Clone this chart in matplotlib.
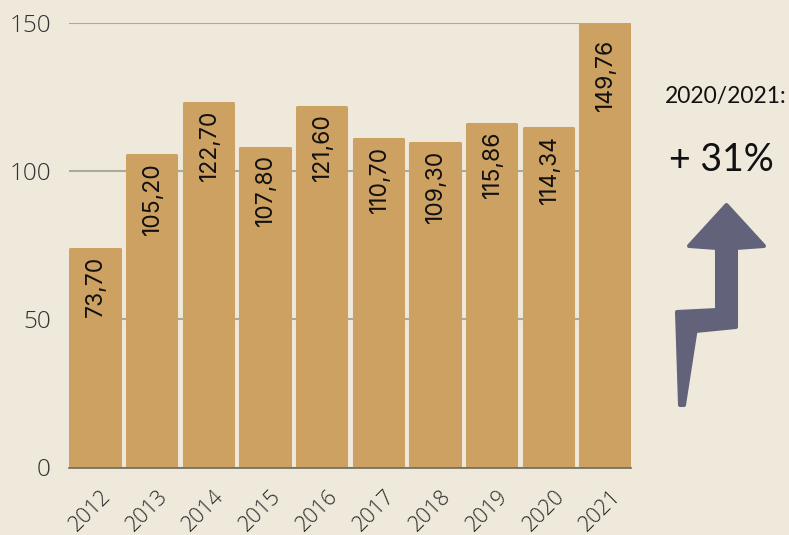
import matplotlib
matplotlib.use('Agg')
import matplotlib.pyplot as plt
from matplotlib.patches import Polygon
from matplotlib.transforms import ScaledTranslation

years = ['2012', '2013', '2014', '2015', '2016', '2017', '2018', '2019', '2020', '2021']
values = [73.70, 105.20, 122.70, 107.80, 121.60, 110.70, 109.30, 115.86, 114.34, 149.76]
labels = ['73,70', '105,20', '122,70', '107,80', '121,60', '110,70', '109,30', '115,86', '114,34', '149,76']
yticks = [0, 50, 100, 150]

BG = '#efe9dc'
BAR = '#cda161'
W, H = 789, 535

fig = plt.figure(figsize=(W/100, H/100), dpi=100, facecolor=BG)
ax = fig.add_axes([69/W, 1-467.5/H, (631-69)/W, (467.5-22.5)/H])
ax.set_facecolor(BG)
ax.set_xlim(-0.458, 9.458)
ax.set_ylim(0, 150)

# thick round edge gives the rounded bar corners
ax.bar(range(10), values, width=0.87, color=BAR, edgecolor=BAR, lw=2.2,
       joinstyle='round', zorder=2)
for i, (v, l) in enumerate(zip(values, labels)):
    ax.text(i+0.02, min(v-2.2, 144.6), l, rotation=90, ha='center', va='top', fontsize=16.5, family='Inter',
            color='#111111', zorder=3)

ax.set_yticks(yticks)
ax.set_yticklabels(yticks, fontsize=17.5, family='Open Sans', fontweight='light', color='#333333')
ax.set_xticks(range(10))
ax.set_xticklabels(years, rotation=45, ha='right', rotation_mode='anchor', fontsize=15.5, family='Open Sans',
                   fontweight='light', color='#2a2a2a')
ax.tick_params(length=0)
ax.tick_params(axis='x', pad=13)
ax.tick_params(axis='y', pad=13)
shift = ScaledTranslation(4/72, 0, fig.dpi_scale_trans)
for t in ax.get_xticklabels():
    t.set_transform(t.get_transform() + shift)
ax.grid(axis='y', color='#a6ad94', lw=1.5, zorder=1)
ax.set_axisbelow(True)
for s in ['top', 'right', 'left']:
    ax.spines[s].set_visible(False)
ax.spines['bottom'].set_color('#6e6a5c')
ax.spines['bottom'].set_linewidth(1.2)

# annotation, arrow in figure pixels
fig.text(726/W, 1-97/H, '2020/2021:', ha='center', va='center', fontsize=16.5,
         family='Lato', color='#111111')
fig.text(721/W, 1-160/H, '+ 31%', ha='center', va='center', fontsize=27,
         family='Lato', color='#111111')
arrow = [(726.5,205),(764,246),(736,248),(736,327),(695.5,331),(684,405),(680,405),(677,312),(717,310),(717,248),(689,246)]
fig.add_artist(Polygon([(x/W, 1-y/H) for x, y in arrow], closed=True, transform=fig.transFigure,
                       facecolor='#62637a', edgecolor='#62637a', lw=2.9, joinstyle='round'))

fig.savefig('out.png', dpi=100, facecolor=BG)
